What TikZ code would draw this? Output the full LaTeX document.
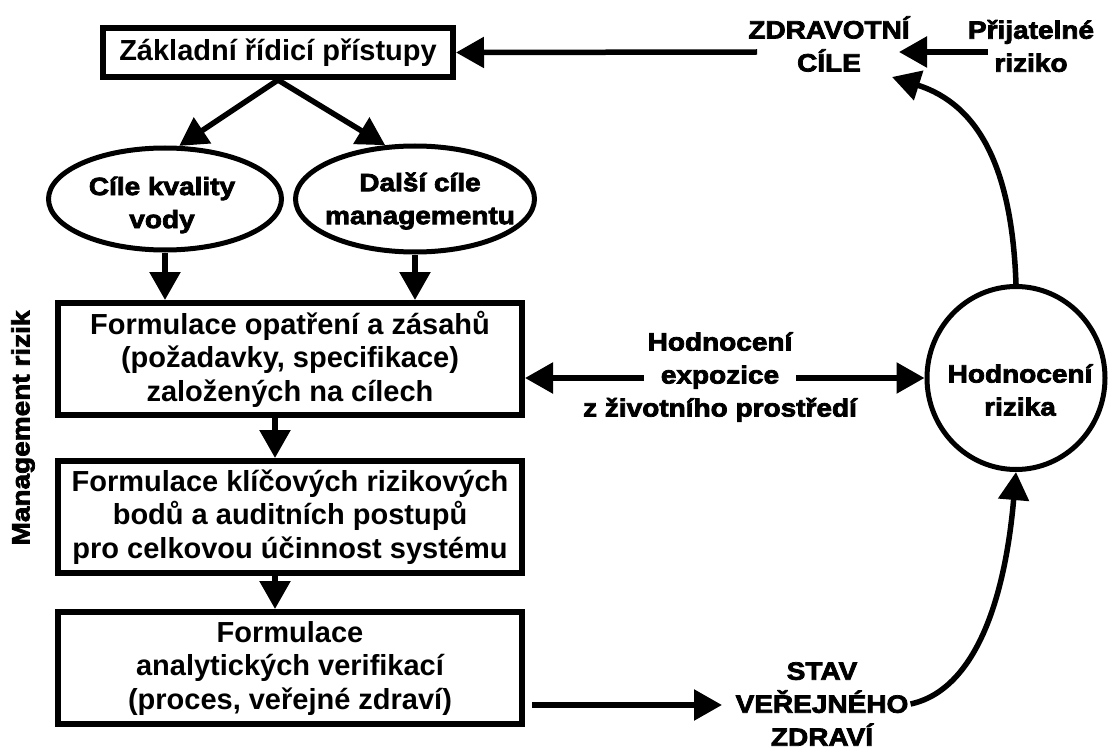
\documentclass[tikz,border=0pt]{standalone}
\usepackage{fontspec}
\setmainfont{Liberation Sans}
\newfontfamily\heavyfont{Liberation Sans Bold}[FakeStretch=1.12,FakeBold=3]
\usetikzlibrary{arrows.meta,shapes.geometric}
\begin{document}
\begin{tikzpicture}[x=1pt,y=-1pt,
  arr/.style={line width=5.5pt,-{Triangle[length=28pt,width=30pt]}},
  boxtxt/.style={font=\fontsize{29}{33.5}\selectfont\bfseries, align=center},
  hv/.style={font=\fontsize{25}{33}\selectfont\heavyfont, align=center, inner sep=2pt},
  rbox/.style={draw, line width=6pt, minimum width=464pt, minimum height=112pt, inner sep=0pt},
  ell/.style={draw, ellipse, line width=5pt, inner sep=0pt},
]
\useasboundingbox (0,0) rectangle (1109,749);

% top box
\node[draw, line width=6pt, minimum width=350pt, minimum height=49pt, inner sep=0pt,
      boxtxt] (zrp) at (278,52.5) {Základní řídicí přístupy};

% ellipses
\node[ell, minimum width=233pt, minimum height=102pt] (e1) at (165,199) {};
\node[hv] (e1t) at (162,205) {Cíle kvality\\vody};
\node[ell, minimum width=239pt, minimum height=106pt] (e2) at (415,199) {};
\node[hv] (e2t) at (420,201) {Další cíle\\managementu};

% boxes
\node[rbox, boxtxt] (b1) at (290,359) {Formulace opatření a zásahů\\(požadavky, specifikace)\\založených na cílech};
\node[rbox, boxtxt] (b2) at (290,517) {Formulace klíčových rizikových\\bodů a auditních postupů\\pro celkovou účinnost systému};
\node[rbox, boxtxt] (b3) at (290,668) {Formulace\\analytických verifikací\\(proces, veřejné zdraví)};

% side label
\node[hv, rotate=90] (mg) at (23,428) {Management rizik};

% right side
\node[hv] (zc) at (829,44) {ZDRAVOTNÍ\\CÍLE};
\node[hv] (pr) at (1031,46) {Přijatelné\\riziko};
\node[ell, minimum width=178pt, minimum height=183pt] (hr) at (1016,378) {};
\node[hv] (hrt) at (1020,390) {Hodnocení\\rizika};
\node[hv] (he) at (720,377) {Hodnocení\\expozice\\z životního prostředí};
\node[hv] (st) at (822,704) {STAV\\VEŘEJNÉHO\\ZDRAVÍ};

% free ends
\coordinate (zcin) at (757,52);
\coordinate (prout) at (988,52);
\coordinate (zcR) at (899,52);
\coordinate (zct) at (892,77);
\coordinate (heL) at (644,378);
\coordinate (heR) at (796,378);
\coordinate (b3o) at (532,705);
\coordinate (stL) at (722,705);
\coordinate (ax) at (275,0);

% connectors
\draw[arr] (zcin) -- (zrp.east);
\draw[arr] (prout) -- (zcR);
\draw[arr] (zrp.south) -- (e1.75);
\draw[arr] (zrp.south) -- (e2.119);
\draw[arr] (e1.south) -- (e1.south |- b1.north);
\draw[arr] (e2.south) -- (e2.south |- b1.north);
\draw[arr] (b1.south -| ax) -- (b2.north -| ax);
\draw[arr] (b2.south -| ax) -- (b3.north -| ax);
\draw[arr] (heL) -- (b1.east |- heL);
\draw[arr] (heR) -- (hr.west);
\draw[arr] (b3o) -- (stL);
\draw[arr] (hr.north) .. controls (1012,170) and (980,105) .. (zct);
\draw[arr] (st.east) .. controls (975,690) and (1005,600) .. (hr.south);
\end{tikzpicture}
\end{document}
